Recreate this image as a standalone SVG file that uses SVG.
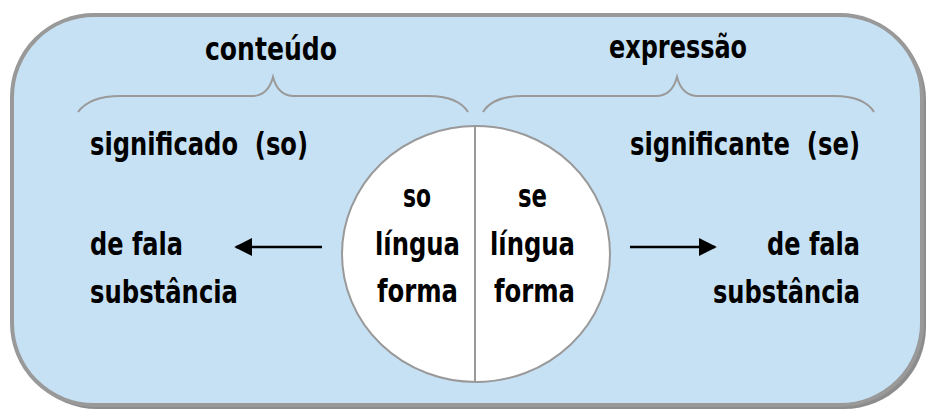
<svg xmlns="http://www.w3.org/2000/svg" width="937" height="413" viewBox="0 0 937 413">
<defs>
<style>
text{font-family:"DejaVu Sans Condensed","Liberation Sans",sans-serif;font-weight:bold;font-size:32px;fill:#000}
.brace{fill:none;stroke:#9a9a9a;stroke-width:2}
.conn{stroke:#000;stroke-width:2.5;fill:none}
</style>
<marker id="ah" viewBox="0 0 10 10" refX="9" refY="5" markerWidth="18" markerHeight="18" markerUnits="userSpaceOnUse" orient="auto" preserveAspectRatio="none">
<path d="M0,0 L10,5 L0,10 Z" fill="#000"/>
</marker>
</defs>
<g id="frame">
<rect x="15" y="18" width="911" height="391" rx="82" ry="82" fill="#8c8c8c"/>
<rect x="12" y="15" width="910" height="390" rx="82" ry="82" fill="#c7e1f4" stroke="#999" stroke-width="4"/>
</g>
<g id="conteudo">
<text x="205" y="60" textLength="132" lengthAdjust="spacingAndGlyphs">conteúdo</text>
<path class="brace" d="M78,112 Q90,96 120,96 L252,96 Q268,96 273,77 Q278,96 294,96 L428,96 Q458,96 468,112"/>
</g>
<g id="expressao">
<text x="609" y="58" textLength="138" lengthAdjust="spacingAndGlyphs">expressão</text>
<path class="brace" d="M483,112 Q493,96 523,96 L656,96 Q672,96 677,77 Q682,96 698,96 L834,96 Q864,96 874,112"/>
</g>
<g id="significado">
<text x="90" y="155" textLength="218" lengthAdjust="spacingAndGlyphs" xml:space="preserve">significado  (so)</text>
<text x="90" y="255" textLength="93" lengthAdjust="spacingAndGlyphs">de fala</text>
<text x="90" y="303" textLength="148" lengthAdjust="spacingAndGlyphs">substância</text>
</g>
<g id="significante">
<text x="630" y="155" textLength="230" lengthAdjust="spacingAndGlyphs" xml:space="preserve">significante  (se)</text>
<text x="767" y="255" textLength="93" lengthAdjust="spacingAndGlyphs">de fala</text>
<text x="713" y="303" textLength="147" lengthAdjust="spacingAndGlyphs">substância</text>
</g>
<g id="signo">
<ellipse cx="476" cy="254" rx="134" ry="128" fill="#fff" stroke="#999" stroke-width="2"/>
<line x1="475" y1="126" x2="475" y2="382" stroke="#999" stroke-width="2"/>
<text x="403" y="207" textLength="28" lengthAdjust="spacingAndGlyphs">so</text>
<text x="375" y="255" textLength="85" lengthAdjust="spacingAndGlyphs">língua</text>
<text x="377" y="302" textLength="81" lengthAdjust="spacingAndGlyphs">forma</text>
<text x="518" y="207" textLength="29" lengthAdjust="spacingAndGlyphs">se</text>
<text x="490" y="255" textLength="85" lengthAdjust="spacingAndGlyphs">língua</text>
<text x="494" y="302" textLength="81" lengthAdjust="spacingAndGlyphs">forma</text>
</g>
<g id="connectors">
<line class="conn" x1="322" y1="247" x2="236" y2="247" marker-end="url(#ah)"/>
<line class="conn" x1="630" y1="247" x2="715" y2="247" marker-end="url(#ah)"/>
</g>
</svg>
